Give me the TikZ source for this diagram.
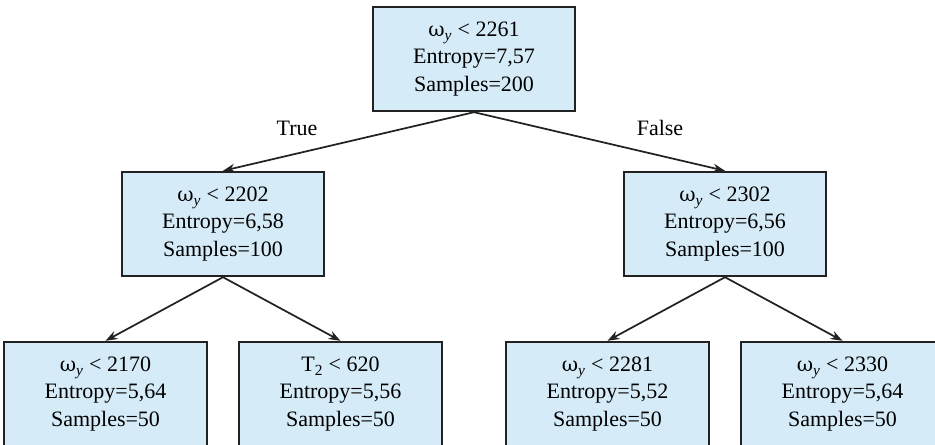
\documentclass[tikz,border=0pt]{standalone}
\usepackage{fontspec}
\newfontfamily\treefont{Liberation Serif}
\newfontfamily\greekfont{DejaVu Serif}
\usetikzlibrary{arrows.meta}

\definecolor{splitfill}{HTML}{D5EBF8}
\definecolor{splitline}{HTML}{222222}
\newcommand{\wy}{{\greekfont\fontsize{15}{20.5}\selectfont ω}\textsubscript{\textit{y}}}

\begin{document}
\begin{tikzpicture}[
  font=\fontsize{16.5}{20.5}\selectfont,
  execute at begin node=\treefont,
  split/.style={rectangle, draw=splitline, line width=1.3pt, fill=splitfill,
                minimum width=152pt, minimum height=78.5pt,
                align=center, inner sep=0pt},
  every child node/.style={split},
  level 1/.style={sibling distance=376.5pt, level distance=123.75pt},
  level 2/.style={sibling distance=176.25pt, level distance=127.5pt},
  edge from parent/.style={draw=splitline, line width=1.3pt,
                           -{Stealth[length=9pt,width=6.5pt]}},
  edge from parent path={(\tikzparentnode.south) -- (\tikzchildnode.north)},
]
\useasboundingbox (0,0) rectangle (701.25pt,-333.75pt);
\node[split] (root) at (355.5pt,-44.25pt) {\wy{} < 2261\\Entropy=7,57\\Samples=200}
  child { node (l) {\wy{} < 2202\\Entropy=6,58\\Samples=100}
    child { node (ll) {\wy{} < 2170\\Entropy=5,64\\Samples=50} }
    child { node (lr) {T\textsubscript{2} < 620\\Entropy=5,56\\Samples=50} }
  }
  child { node (r) {\wy{} < 2302\\Entropy=6,56\\Samples=100}
    child { node (rl) {\wy{} < 2281\\Entropy=5,52\\Samples=50} }
    child { node (rr) {\wy{} < 2330\\Entropy=5,64\\Samples=50} }
  };
\node (true) at (222.75pt,-96pt) {True};
\node (false) at (495pt,-96pt) {False};
\end{tikzpicture}
\end{document}
